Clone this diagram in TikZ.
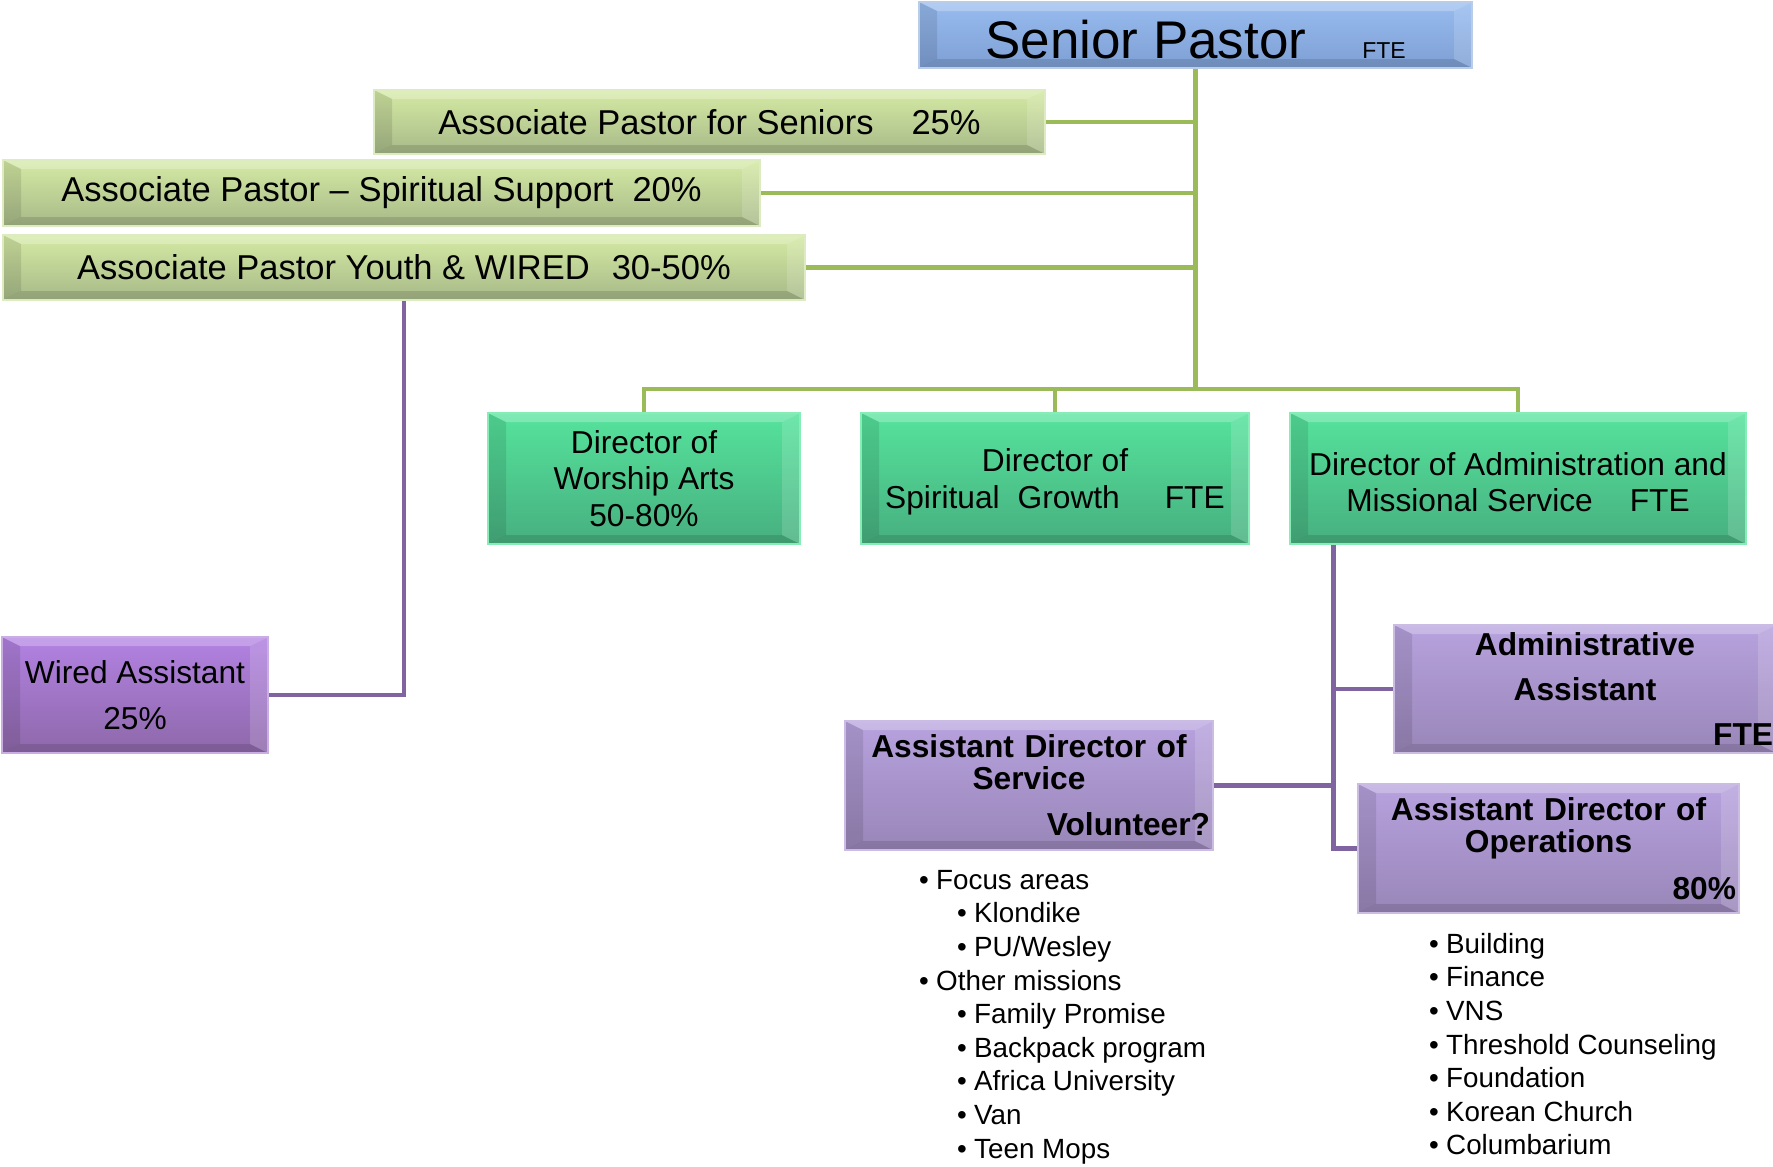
\documentclass[tikz,border=0pt]{standalone}
\usepackage{fontspec}
\setmainfont{Liberation Sans}

\definecolor{spTop}{HTML}{98BCF0}
\definecolor{spBot}{HTML}{7E9FD4}
\definecolor{spEdge}{HTML}{B9CDE8}
\definecolor{apTop}{HTML}{D5EAA4}
\definecolor{apBot}{HTML}{A7B988}
\definecolor{apEdge}{HTML}{DCEBC2}
\definecolor{drTop}{HTML}{55E39C}
\definecolor{drBot}{HTML}{47AF7F}
\definecolor{drEdge}{HTML}{86EDB6}
\definecolor{waTop}{HTML}{B282E2}
\definecolor{waBot}{HTML}{8E68AA}
\definecolor{waEdge}{HTML}{C9ADE3}
\definecolor{asTop}{HTML}{B7A2DE}
\definecolor{asBot}{HTML}{9986B8}
\definecolor{asEdge}{HTML}{CBBCE3}
\definecolor{lineGreen}{HTML}{9BBB59}
\definecolor{linePurple}{HTML}{8064A2}

\newcommand{\lvlone}[1]{\makebox[17pt][l]{•}#1}
\newcommand{\lvltwo}[1]{\hspace*{38pt}\makebox[17pt][l]{•}#1}

\tikzset{
  bevel/.style={path picture={
    \coordinate (bnw) at (path picture bounding box.north west);
    \coordinate (bne) at (path picture bounding box.north east);
    \coordinate (bsw) at (path picture bounding box.south west);
    \coordinate (bse) at (path picture bounding box.south east);
    \fill[white, opacity=.25] (bnw) -- (bne) -- ([shift={(-18pt,-9pt)}]bne) -- ([shift={(18pt,-9pt)}]bnw) -- cycle;
    \fill[white, opacity=.15] (bne) -- ([shift={(-18pt,-9pt)}]bne) -- ([shift={(-18pt,9pt)}]bse) -- (bse) -- cycle;
    \fill[black, opacity=.12] (bsw) -- (bse) -- ([shift={(-18pt,9pt)}]bse) -- ([shift={(18pt,9pt)}]bsw) -- cycle;
    \fill[black, opacity=.1] (bnw) -- ([shift={(18pt,-9pt)}]bnw) -- ([shift={(18pt,9pt)}]bsw) -- (bsw) -- cycle;
  }},
  box/.style={draw, line width=1.5pt, inner sep=0pt, align=center, bevel},
  spbox/.style={box, draw=spEdge, top color=spTop, bottom color=spBot},
  apbox/.style={box, draw=apEdge, top color=apTop, bottom color=apBot, font=\fontsize{34.5}{40}\selectfont},
  drbox/.style={box, draw=drEdge, top color=drTop, bottom color=drBot, font=\fontsize{31.7}{36.5}\selectfont},
  wabox/.style={box, draw=waEdge, top color=waTop, bottom color=waBot, font=\fontsize{31.7}{46}\selectfont},
  asbox/.style={box, draw=asEdge, top color=asTop, bottom color=asBot, inner xsep=3pt, font=\bfseries\fontsize{31.7}{32}\selectfont},
  listtext/.style={anchor=north west, align=left, inner sep=0pt, font=\fontsize{27.8}{33.6}\selectfont},
  greenline/.style={draw=lineGreen, line width=4.5pt},
  purpleline/.style={draw=linePurple, line width=4.5pt}
}

\begin{document}
\begin{tikzpicture}[x=1pt, y=-1pt]
\useasboundingbox (0,0) rectangle (1773,1167);

\node[spbox, minimum width=553pt, minimum height=66pt, text height=46pt, text depth=0pt] (SP) at (1195.5,35)
  {{\fontsize{53}{60}\selectfont Senior Pastor}\hspace{56pt}{\fontsize{23}{28}\selectfont FTE}};

\node[apbox, minimum width=671pt, minimum height=64pt] (APS)  at (709.5,122) {Associate Pastor for Seniors\hspace{38pt}25\%};
\node[apbox, minimum width=757pt, minimum height=66pt] (APSS) at (381.5,193) {Associate Pastor – Spiritual Support\hspace{19pt}20\%};
\node[apbox, minimum width=802pt, minimum height=65pt] (APY)  at (404,267.5) {Associate Pastor Youth \& WIRED\hspace{22pt}30-50\%};

\node[drbox, minimum width=312pt, minimum height=131pt] (DWA)  at (644,478.5)  {Director of\\Worship Arts\\50-80\%};
\node[drbox, minimum width=388pt, minimum height=131pt] (DSG)  at (1055,478.5) {\rule{0pt}{30pt}Director of\\Spiritual\hspace{18pt}Growth\hspace{45pt}FTE};
\node[drbox, minimum width=456pt, minimum height=131pt] (DAMS) at (1518,478.5) {\rule{0pt}{30pt}Director of Administration and\\Missional Service\hspace{37pt}FTE};

\node[wabox, minimum width=266pt, minimum height=116pt] (WA) at (135,695) {Wired Assistant\\25\%};

\node[asbox, minimum width=382pt, minimum height=128pt, text width=376pt] (AA)  at (1585,689)    {Administrative\\[13pt]Assistant\\[13pt]\hfill FTE};
\node[asbox, minimum width=368pt, minimum height=129pt, text width=362pt] (ADS) at (1029,785.5)  {Assistant Director of\\Service\\[14pt]\hfill Volunteer?};
\node[asbox, minimum width=381pt, minimum height=129pt, text width=375pt] (ADO) at (1548.5,848.5) {Assistant Director of\\Operations\\[15pt]\hfill 80\%};

\node[listtext] (svcList) at (919,870) {\lvlone{Focus areas}\\ \lvltwo{Klondike}\\ \lvltwo{PU/Wesley}\\ \lvlone{Other missions}\\
  \lvltwo{Family Promise}\\ \lvltwo{Backpack program}\\ \lvltwo{Africa University}\\ \lvltwo{Van}\\ \lvltwo{Teen Mops}};
\node[listtext] (opsList) at (1429,933) {\lvlone{Building}\\ \lvlone{Finance}\\ \lvlone{VNS}\\ \lvlone{Threshold Counseling}\\
  \lvlone{Foundation}\\ \lvlone{Korean Church}\\ \lvlone{Columbarium}};

% green lines
\coordinate (bus) at (1195,389);
\draw[greenline] (SP.south) -- (SP.south |- bus);
\draw[greenline] (APS.east) -- (APS.east -| SP.south);
\draw[greenline] (APSS.east) -- (APSS.east -| SP.south);
\draw[greenline] (APY.east) -- (APY.east -| SP.south);
\draw[greenline] (DWA.north) |- (bus) -| (DAMS.north);
\draw[greenline] (DSG.north) -- (DSG.north |- bus);

% purple lines
\draw[purpleline] (APY.south) |- (WA.east);
\coordinate (spine) at ([xshift=44pt]DAMS.south west);
\draw[purpleline] (spine) |- (ADO.west);
\draw[purpleline] (spine |- AA.west) -- (AA.west);
\draw[purpleline] (spine |- ADS.east) -- (ADS.east);
\end{tikzpicture}
\end{document}
